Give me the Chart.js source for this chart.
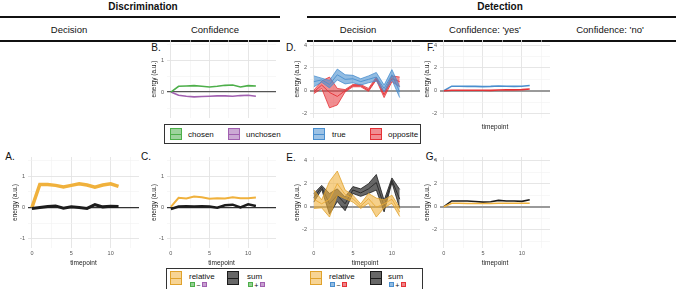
<!DOCTYPE html>
<html lang="en">
<head>
<meta charset="UTF-8">
<title>Energy by timepoint</title>
<script src="https://cdn.jsdelivr.net/npm/chart.js"></script>
<style>
  body { margin:0; width:676px; height:289px; background:#fff; position:relative; overflow:hidden;
         font-family:'Liberation Sans', Arial, sans-serif; color:#111; }
  .t { position:absolute; transform:translate(-50%,-50%); white-space:nowrap; }
  .rule { position:absolute; height:1.5px; background:#111; }
  .tag { position:absolute; transform:translate(-50%,-50%); font-size:10px; }
  .box { position:absolute; border:1.2px solid #333; box-sizing:border-box; }
  .sw { position:absolute; box-sizing:border-box; border:1px solid; }
  .sw::after { content:''; position:absolute; left:0; right:0; top:50%; height:1px; margin-top:-0.5px; background:currentColor; }
  .lt { position:absolute; font-size:8px; transform:translateY(-50%); white-space:nowrap; }
  .mini { position:absolute; width:4.5px; height:4.5px; box-sizing:border-box; border:0.8px solid; }
  .op { position:absolute; font-size:7px; line-height:7px; transform:translate(-50%,-50%); }
</style>
</head>
<body>

<div class="t" style="left:143px;top:6px;font-weight:bold;font-size:10px">Discrimination</div>
<div class="t" style="left:500px;top:6px;font-weight:bold;font-size:10px">Detection</div>
<div class="rule" style="left:0;width:280px;top:16px"></div>
<div class="rule" style="left:307px;width:369px;top:16px"></div>
<div class="t" style="left:69px;top:29px;font-size:9.5px">Decision</div>
<div class="t" style="left:215px;top:29px;font-size:9.5px">Confidence</div>
<div class="t" style="left:358px;top:29px;font-size:9.5px">Decision</div>
<div class="t" style="left:485px;top:29px;font-size:9.5px">Confidence: 'yes'</div>
<div class="t" style="left:610px;top:29px;font-size:9.5px">Confidence: 'no'</div>
<div class="rule" style="left:0;width:280px;top:40px"></div>
<div class="rule" style="left:307px;width:369px;top:40px"></div>

<div class="tag" style="left:10px;top:156px">A.</div>
<div class="tag" style="left:156px;top:47px">B.</div>
<div class="tag" style="left:146px;top:156px">C.</div>
<div class="tag" style="left:291px;top:47px">D.</div>
<div class="tag" style="left:291px;top:157px">E.</div>
<div class="tag" style="left:431px;top:47px">F.</div>
<div class="tag" style="left:431px;top:156px">G.</div>

<div class="box" style="left:164px;top:124px;width:257px;height:20px"></div>
<div class="box" style="left:166px;top:268px;width:257px;height:26px"></div>

<script>
  // timepoints on the x axis
  const timepoints = [0, 1, 2, 3, 4, 5, 6, 7, 8, 9, 10, 11];

  // A: discrimination, decision
  const aRelative = [0, 0.74, 0.74, 0.71, 0.66, 0.71, 0.76, 0.72, 0.65, 0.72, 0.76, 0.68];
  const aSum      = [-0.03, 0.0, 0.03, 0.05, -0.02, 0.02, 0.0, -0.03, 0.09, 0.02, 0.04, 0.03];

  // B: discrimination, confidence (chosen / unchosen)
  const bChosen   = [0, 0.18, 0.19, 0.2, 0.18, 0.16, 0.18, 0.21, 0.22, 0.16, 0.2, 0.19];
  const bUnchosen = [0, -0.1, -0.13, -0.15, -0.14, -0.13, -0.12, -0.12, -0.13, -0.11, -0.1, -0.13];

  // C: discrimination, confidence (relative / sum)
  const cRelative = [0.02, 0.31, 0.29, 0.35, 0.33, 0.28, 0.3, 0.29, 0.33, 0.3, 0.3, 0.32];
  const cSum      = [-0.05, 0.03, 0.04, 0.03, 0.04, 0.03, -0.01, 0.07, 0.09, 0.0, 0.1, 0.05];

  // D: detection, decision (true / opposite with ribbons)
  const dTrueMid  = [0.8, 0.95, 0.55, 1.4, 1.0, 1.05, 0.8, 1.0, 1.2, 0.2, 1.4, -0.1];
  const dTrueLow  = [0.35, 0.75, 0.25, 0.95, 0.6, 0.7, 0.5, 0.7, 0.85, -0.1, 0.95, -0.6];
  const dTrueHigh = [1.3, 1.1, 0.9, 1.9, 1.4, 1.35, 1.05, 1.3, 1.6, 0.5, 1.85, 0.35];
  const dOppMid   = [-0.1, 0.5, -0.15, -0.5, 0.0, 0.45, 0.45, 0.05, 1.05, -0.35, 1.05, 0.8];
  const dOppLow   = [-0.25, 0.2, -1.5, -1.25, -0.1, 0.35, 0.35, -0.05, 0.95, -0.6, 0.8, 0.35];
  const dOppHigh  = [0.05, 0.85, 1.2, 0.2, 0.1, 0.55, 0.55, 0.2, 1.2, -0.1, 1.3, 1.2];

  // E: detection, decision (relative / sum with ribbons)
  const eRelMid  = [0.65, 0.25, 0.65, 2.0, 1.05, 0.7, 0.05, 0.7, -0.05, 0.25, 0.65, -0.45];
  const eRelLow  = [-0.15, -0.1, -0.9, 1.0, 0.7, 0.4, -0.15, 0.3, -0.9, -0.1, 0.3, -0.85];
  const eRelHigh = [1.45, 0.6, 2.2, 3.1, 1.45, 1.0, 0.25, 1.15, 0.75, 0.6, 1.0, -0.1];
  const eSumMid  = [0.8, 1.7, 0.25, 1.0, 0.25, 1.45, 1.2, 1.55, 2.1, 0.05, 2.3, 0.65];
  const eSumLow  = [0.4, 1.5, -0.65, 0.45, -0.35, 1.15, 0.9, 1.15, 1.45, -0.45, 2.1, -0.15];
  const eSumHigh = [1.15, 1.85, 1.15, 1.55, 0.85, 1.75, 1.55, 2.0, 2.8, 0.55, 2.5, 1.5];

  // F: detection, confidence 'yes'
  const fTrue     = [0, 0.4, 0.4, 0.38, 0.38, 0.36, 0.38, 0.42, 0.4, 0.38, 0.4, 0.46];
  const fOpposite = [0, 0.05, 0.05, 0.05, 0.05, 0.05, 0.03, 0.06, 0.08, 0.08, 0.1, 0.15];

  // G: detection, confidence 'yes' (relative / sum)
  const gSum      = [0, 0.5, 0.5, 0.5, 0.45, 0.4, 0.43, 0.55, 0.5, 0.5, 0.46, 0.6];
  const gRelative = [0, 0.3, 0.3, 0.28, 0.28, 0.28, 0.28, 0.3, 0.3, 0.3, 0.3, 0.3];

  // grid / tick values
  const xGrid = [0, 2.5, 5, 7.5, 10, 12.5];
  const xMajor = [0, 5, 10];
  const yGridSmall = [-1, -0.5, 0, 0.5, 1, 1.5];
  const yMajorSmall = [-1, 0, 1];
  const yGridLarge = [-3, -2, -1, 0, 1, 2, 3, 4];
  const yMajorLarge = [-2, 0, 2, 4];

  const legendTopLabels = ['chosen', 'unchosen', 'true', 'opposite'];
  const legendBottomLabels = ['relative', 'sum', 'relative', 'sum'];

  const yellow = '#f0b13c', black = '#1c1c1c', green = '#4daf4a', purple = '#a160b0',
        blue = '#4a8fcf', red = '#e53237';
  const axisFont = "'Liberation Sans', Arial, sans-serif";

  const pts = ys => ys.map((y, i) => ({ x: timepoints[i], y }));
  const line = (ys, color, w) => ({ data: pts(ys), borderColor: color, borderWidth: w, pointRadius: 0, fill: false, tension: 0 });
  const ribbon = (lo, hi, edge, fillCol) => [
    { data: pts(lo), borderColor: edge, borderWidth: 0.8, pointRadius: 0, fill: false },
    { data: pts(hi), borderColor: edge, borderWidth: 0.8, pointRadius: 0, fill: '-1', backgroundColor: fillCol }
  ];

  const small = { grid: yGridSmall, major: yMajorSmall };
  const large = { grid: yGridLarge, major: yMajorLarge };

  const panels = [
    { box: [11, 157, 128, 110], xh: 19, xt: true, xtitle: true, y: small, min: -1.3, max: 1.62, zero: ['#333', 1.2],
      sets: [line(aSum, black, 3), line(aRelative, yellow, 3.5)] },
    { box: [150, 40, 126, 78], xh: 0, xt: false, xtitle: false, y: small, min: -0.81, max: 1.625, zero: ['#555', 1.2],
      sets: [line(bChosen, green, 1.6), line(bUnchosen, purple, 1.6)] },
    { box: [150, 157, 126, 110], xh: 19, xt: true, xtitle: true, y: small, min: -1.3, max: 1.62, zero: ['#333', 1.2],
      sets: [line(cSum, black, 2.5), line(cRelative, yellow, 2)] },
    { box: [293, 40, 127, 78], xh: 0, xt: false, xtitle: false, y: large, min: -2.39, max: 4.45, zero: ['#9a9a9a', 2],
      sets: [...ribbon(dTrueLow, dTrueHigh, blue, 'rgba(74,143,207,0.6)'), line(dTrueMid, blue, 0.9),
             ...ribbon(dOppLow, dOppHigh, red, 'rgba(229,50,55,0.55)'), line(dOppMid, red, 0.9)] },
    { box: [293, 157, 127, 110], xh: 19, xt: true, xtitle: true, y: large, min: -3.59, max: 4.32, zero: ['#9a9a9a', 2],
      sets: [...ribbon(eRelLow, eRelHigh, '#e0a22c', 'rgba(240,177,60,0.6)'), line(eRelMid, '#e0a22c', 0.9),
             ...ribbon(eSumLow, eSumHigh, black, 'rgba(45,45,45,0.72)'), line(eSumMid, black, 0.9)] },
    { box: [423, 40, 127, 91], xh: 13, xt: false, xtitle: true, y: large, min: -2.39, max: 4.45, zero: ['#9a9a9a', 2],
      sets: [line(fOpposite, red, 1.6), line(fTrue, blue, 1.6)] },
    { box: [423, 157, 127, 110], xh: 19, xt: true, xtitle: true, y: large, min: -3.59, max: 4.32, zero: ['#9a9a9a', 2],
      sets: [line(gRelative, yellow, 1.6), line(gSum, black, 1.6)] }
  ];

  panels.forEach(p => {
    const cv = document.createElement('canvas');
    cv.width = p.box[2];
    cv.height = p.box[3];
    cv.style.cssText = `position:absolute;left:${p.box[0]}px;top:${p.box[1]}px;`;
    document.body.appendChild(cv);
    const yTicks = p.y.grid.filter(v => v >= p.min && v <= p.max);
    new Chart(cv, {
      type: 'line',
      data: { datasets: p.sets },
      options: {
        responsive: false,
        animation: false,
        devicePixelRatio: 1,
        layout: { padding: 0 },
        plugins: { legend: { display: false }, tooltip: { enabled: false } },
        scales: {
          x: {
            type: 'linear', min: -0.5, max: 13.6,
            afterBuildTicks: s => { s.ticks = xGrid.map(v => ({ value: v })); },
            afterFit: s => { s.height = p.xh; s.paddingLeft = 0; s.paddingRight = 0; },
            grid: {
              color: c => c.tick && xMajor.includes(c.tick.value) ? '#e3e3e3' : '#f1f1f1',
              lineWidth: c => c.tick && xMajor.includes(c.tick.value) ? 0.9 : 0.6,
              drawTicks: false
            },
            border: { display: false },
            ticks: {
              display: p.xt, autoSkip: false, maxRotation: 0, padding: 2, color: '#555',
              font: { family: axisFont, size: 5.5 },
              callback: v => xMajor.includes(v) ? String(v) : ''
            },
            title: { display: p.xtitle, text: 'timepoint', padding: 0, color: '#1a1a1a', font: { family: axisFont, size: 6.5 } }
          },
          y: {
            min: p.min, max: p.max,
            afterBuildTicks: s => { s.ticks = yTicks.map(v => ({ value: v })); },
            afterFit: s => { s.width = 17; s.paddingTop = 0; s.paddingBottom = 0; },
            grid: {
              color: c => {
                if (!c.tick) return '#f1f1f1';
                if (c.tick.value === 0) return p.zero[0];
                return p.y.major.includes(c.tick.value) ? '#e3e3e3' : '#f1f1f1';
              },
              lineWidth: c => {
                if (!c.tick) return 0.6;
                if (c.tick.value === 0) return p.zero[1];
                return p.y.major.includes(c.tick.value) ? 0.9 : 0.6;
              },
              drawTicks: false
            },
            border: { display: false },
            ticks: {
              autoSkip: false, padding: 3, color: '#555',
              font: { family: axisFont, size: 5.5 },
              callback: v => p.y.major.includes(v) ? String(v) : ''
            },
            title: { display: true, text: 'energy (a.u.)', padding: 0, color: '#1a1a1a', font: { family: axisFont, size: 6.5 } }
          }
        }
      }
    });
  });

  // legends (shared across panels, so built as plain elements)
  function swatch(x, y, w, h, color, fillCol) {
    const d = document.createElement('div');
    d.className = 'sw';
    d.style.cssText = `left:${x}px;top:${y}px;width:${w}px;height:${h}px;color:${color};border-color:${color};background:${fillCol};`;
    document.body.appendChild(d);
  }
  function text(cls, x, y, str) {
    const d = document.createElement('div');
    d.className = cls;
    d.style.left = x + 'px';
    d.style.top = y + 'px';
    d.textContent = str;
    document.body.appendChild(d);
  }

  const topColors = [green, purple, blue, red];
  const topFills = ['rgba(77,175,74,0.55)', 'rgba(161,96,176,0.55)', 'rgba(74,143,207,0.55)', 'rgba(229,50,55,0.55)'];
  const topSwX = [170, 228, 313, 370];
  const topTxX = [188, 246, 332, 388];
  legendTopLabels.forEach((lab, i) => {
    swatch(topSwX[i], 128, 12, 12, topColors[i], topFills[i]);
    text('lt', topTxX[i], 134, lab);
  });

  const botColors = ['#e0a22c', black, '#e0a22c', black];
  const botFills = ['rgba(240,177,60,0.55)', 'rgba(45,45,45,0.72)', 'rgba(240,177,60,0.55)', 'rgba(45,45,45,0.72)'];
  const botSwX = [170, 227, 310, 370];
  const botTxX = [189, 247, 329, 388];
  const botPairs = [[green, purple, '−'], [green, purple, '+'], [blue, red, '−'], [blue, red, '+']];
  legendBottomLabels.forEach((lab, i) => {
    swatch(botSwX[i], 271, 12, 14, botColors[i], botFills[i]);
    text('lt', botTxX[i], 276, lab);
    const [c1, c2, op] = botPairs[i];
    const m1 = document.createElement('div');
    m1.className = 'mini';
    m1.style.cssText = `left:${botTxX[i] + 1}px;top:282px;border-color:${c1};background:${c1}99;`;
    document.body.appendChild(m1);
    text('op', botTxX[i] + 9.2, 284.5, op);
    const m2 = document.createElement('div');
    m2.className = 'mini';
    m2.style.cssText = `left:${botTxX[i] + 13}px;top:282px;border-color:${c2};background:${c2}99;`;
    document.body.appendChild(m2);
  });
</script>
</body>
</html>
